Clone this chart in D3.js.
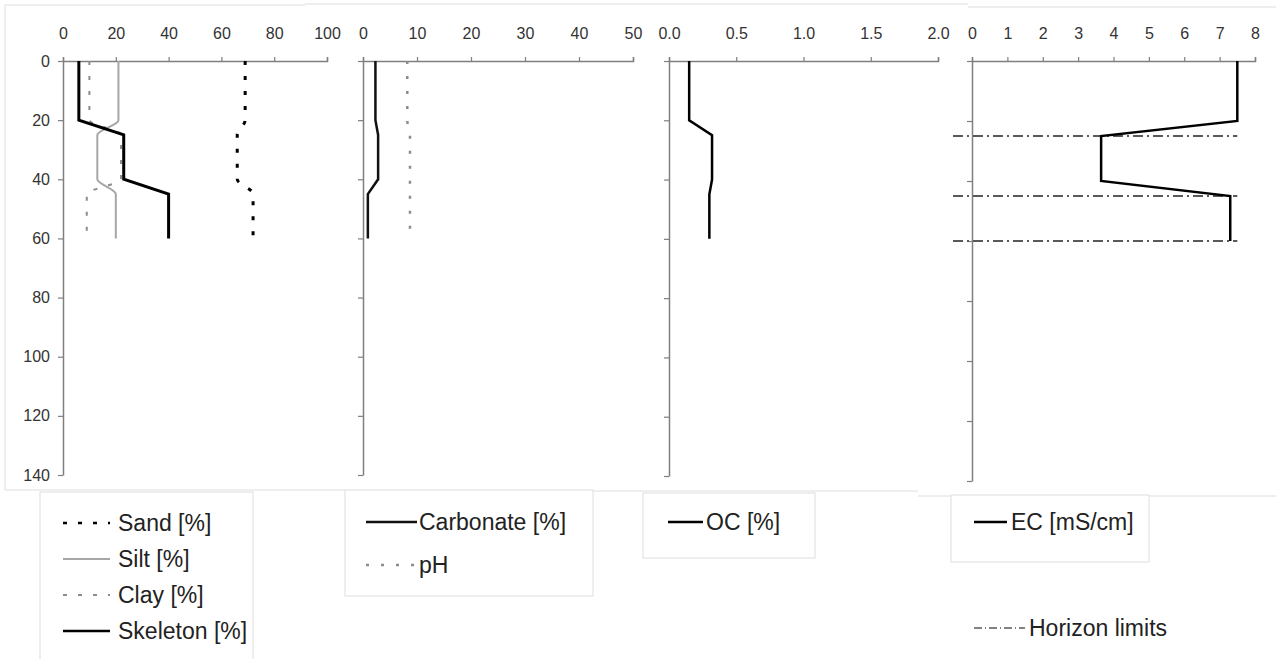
<!DOCTYPE html>
<html lang="en">
<head>
    <meta charset="UTF-8">
    <title>Soil profile</title>
    <script src="https://d3js.org/d3.v7.min.js"></script>
    <style>
        body, html {
            margin: 0;
            background-color: #ffffff;
        }
        #profile {
            width: 1276px;
            height: 659px;
        }
        text {
            font-family: "Liberation Sans", Arial, sans-serif;
        }
    </style>
</head>
<body>
<div id="profile"></div>
<script>
// Depth of the points (cm) for every profile line
var depths = [0, 20, 25, 40, 45, 60];

// Texture panel [%]
var sand     = [69, 69, 66, 66, 72, 72];
var silt     = [21, 21, 13, 13, 20, 20];
var clay     = [10, 10, 22, 22, 9, 9];
var skeleton = [6, 6, 23, 23, 40, 40];

// Carbonate [%] and pH
var carbonate = [2.3, 2.3, 2.8, 2.8, 0.9, 0.9];
var ph        = [8.2, 8.2, 8.7, 8.7, 8.7, 8.7];

// Organic carbon [%]
var oc = [0.15, 0.15, 0.32, 0.32, 0.30, 0.30];

// Electrical conductivity [mS/cm]
var ec = [7.5, 7.5, 3.65, 3.65, 7.3, 7.3];

// Horizon limits (cm)
var horizonLimits = [25, 45, 60];

// Axis ticks
var depthTicks = [0, 20, 40, 60, 80, 100, 120, 140];
var texTicks = [0, 20, 40, 60, 80, 100];
var carbTicks = [0, 10, 20, 30, 40, 50];
var ocTicks = [0, 0.5, 1.0, 1.5, 2.0];
var ecTicks = [0, 1, 2, 3, 4, 5, 6, 7, 8];

var svg = d3.select("#profile")
  .append("svg")
    .attr("width", 1276)
    .attr("height", 659);

// light frames left over from the spreadsheet chart objects
var frameColor = "#dedede";
var frames = [
    [5, 5, 305, 5], [5, 5, 5, 490], [5, 490, 345, 490],
    [305, 4, 968, 4], [593, 491, 918, 491],
    [968, 7, 1276, 7], [918, 496, 1276, 496]
];
frames.forEach(function(f) {
    svg.append("line")
        .attr("x1", f[0]).attr("y1", f[1])
        .attr("x2", f[2]).attr("y2", f[3])
        .attr("stroke", frameColor)
        .attr("stroke-width", 1);
});

// panel definitions
var panels = [
    {x0: 63,  x1: 327,  domain: [0, 100], ticks: texTicks, fmt: d3.format("d"), yBottom: 475, labels: true},
    {x0: 363, x1: 633,  domain: [0, 50],  ticks: carbTicks, fmt: d3.format("d"), yBottom: 475, labels: false},
    {x0: 669, x1: 938,  domain: [0, 2],   ticks: ocTicks, fmt: d3.format(".1f"), yBottom: 476, labels: false},
    {x0: 972, x1: 1255, domain: [0, 8],   ticks: ecTicks, fmt: d3.format("d"), yBottom: 481, labels: false}
];

panels.forEach(function(p) {
    p.x = d3.scaleLinear().domain(p.domain).range([p.x0, p.x1]);
    p.y = d3.scaleLinear().domain([0, 140]).range([61, p.yBottom]);

    // top axis
    var gx = svg.append("g")
        .attr("transform", "translate(0,61)")
        .call(d3.axisTop(p.x).tickValues(p.ticks).tickFormat(p.fmt).tickSize(4).tickSizeOuter(4).tickPadding(18));
    gx.select(".domain").attr("stroke", "#7f7f7f").attr("stroke-width", 1.5);
    gx.selectAll(".tick line").attr("stroke", "#7f7f7f").attr("stroke-width", 1.2);
    gx.selectAll("text")
        .attr("fill", "#333")
        .style("font-size", "16px")
        .style("font-family", "'Liberation Sans', Arial, sans-serif");

    // depth axis
    var gy = svg.append("g")
        .attr("transform", "translate(" + p.x0 + ",0)")
        .call(d3.axisLeft(p.y).tickValues(depthTicks)
              .tickFormat(p.labels ? d3.format("d") : "")
              .tickSize(5).tickSizeOuter(0).tickPadding(8));
    gy.select(".domain").attr("stroke", "#7f7f7f").attr("stroke-width", 1.5);
    gy.selectAll(".tick line").attr("stroke", "#7f7f7f").attr("stroke-width", 1.2);
    gy.selectAll("text")
        .attr("fill", "#333")
        .style("font-size", "16px")
        .style("font-family", "'Liberation Sans', Arial, sans-serif");
});

function profileLine(p, curve) {
    return d3.line()
        .x(function(d) { return p.x(d[0]); })
        .y(function(d) { return p.y(d[1]); })
        .curve(curve || d3.curveLinear);
}

function drawProfile(p, values, style, curve) {
    var pts = values.map(function(v, i) { return [v, depths[i]]; });
    svg.append("path")
        .datum(pts)
        .attr("fill", "none")
        .attr("stroke", style.color)
        .attr("stroke-width", style.width)
        .attr("stroke-dasharray", style.dash || null)
        .attr("d", profileLine(p, curve));
}

var styles = {
    sand:      {color: "#000000", width: 3,   dash: "4,11"},
    silt:      {color: "#a6a6a6", width: 2},
    clay:      {color: "#8c8c8c", width: 2,   dash: "4,11"},
    skeleton:  {color: "#000000", width: 3},
    carbonate: {color: "#111111", width: 2.5},
    ph:        {color: "#8c8c8c", width: 2.5, dash: "3,12"},
    oc:        {color: "#000000", width: 2.5},
    ec:        {color: "#000000", width: 2.5},
    horizon:   {color: "#595959", width: 2,   dash: "10,4,2,4"}
};

// panel 1 : texture
drawProfile(panels[0], silt, styles.silt, d3.curveMonotoneY);
drawProfile(panels[0], clay, styles.clay, d3.curveMonotoneY);
drawProfile(panels[0], skeleton, styles.skeleton);
drawProfile(panels[0], sand, styles.sand, d3.curveMonotoneY);

// panel 2 : carbonate, pH
drawProfile(panels[1], carbonate, styles.carbonate);
drawProfile(panels[1], ph, styles.ph, d3.curveMonotoneY);

// panel 3 : OC
drawProfile(panels[2], oc, styles.oc);

// panel 4 : horizon limits and EC
var p4 = panels[3];
svg.selectAll(".horizon")
    .data(horizonLimits)
    .enter()
    .append("line")
    .attr("class", "horizon")
    .attr("x1", p4.x0 - 19)
    .attr("x2", p4.x(7.5))
    .attr("y1", function(d) { return p4.y(d); })
    .attr("y2", function(d) { return p4.y(d); })
    .attr("stroke", styles.horizon.color)
    .attr("stroke-width", styles.horizon.width)
    .attr("stroke-dasharray", styles.horizon.dash);
drawProfile(p4, ec, styles.ec);

// legends
var legends = [
    {box: [40, 492, 213, 170], lineX: 63, lineW: 47, textX: 118, rowY: 523, rowH: 36,
     items: [["Sand [%]", styles.sand], ["Silt [%]", styles.silt], ["Clay [%]", styles.clay], ["Skeleton [%]", styles.skeleton]]},
    {box: [345, 490, 248, 106], lineX: 366, lineW: 51, textX: 419, rowY: 522, rowH: 43,
     items: [["Carbonate [%]", styles.carbonate], ["pH", styles.ph]]},
    {box: [643, 493, 172, 65], lineX: 668, lineW: 35, textX: 706, rowY: 522, rowH: 40,
     items: [["OC [%]", styles.oc]]},
    {box: [951, 495, 198, 67], lineX: 974, lineW: 33, textX: 1011, rowY: 522, rowH: 40,
     items: [["EC [mS/cm]", styles.ec]]},
    {box: null, lineX: 974, lineW: 51, textX: 1029, rowY: 628, rowH: 40,
     items: [["Horizon limits", {color: "#595959", width: 1.5, dash: "8,3,1,3"}]]}
];

legends.forEach(function(lg) {
    if (lg.box) {
        svg.append("rect")
            .attr("x", lg.box[0]).attr("y", lg.box[1])
            .attr("width", lg.box[2]).attr("height", lg.box[3])
            .attr("fill", "#ffffff")
            .attr("stroke", frameColor)
            .attr("stroke-width", 1);
    }
    lg.items.forEach(function(item, i) {
        var cy = lg.rowY + i * lg.rowH;
        svg.append("line")
            .attr("x1", lg.lineX).attr("x2", lg.lineX + lg.lineW)
            .attr("y1", cy).attr("y2", cy)
            .attr("stroke", item[1].color)
            .attr("stroke-width", Math.min(item[1].width, 2.5))
            .attr("stroke-dasharray", item[1].dash || null);
        svg.append("text")
            .attr("x", lg.textX)
            .attr("y", cy)
            .attr("dy", "0.35em")
            .attr("fill", "#222")
            .style("font-size", "23px")
            .text(item[0]);
    });
});
</script>
</body>
</html>
